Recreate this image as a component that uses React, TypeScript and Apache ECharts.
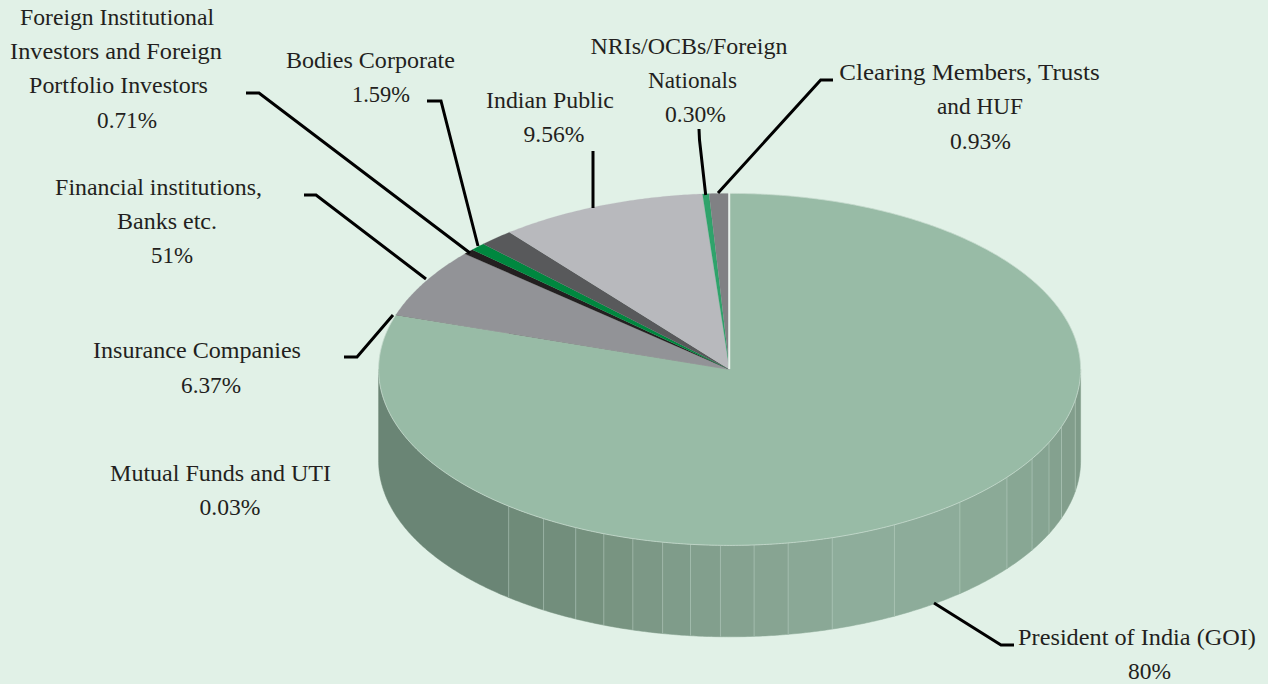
import React, { useEffect, useRef } from "react";
import * as echarts from "echarts";

// Data, clockwise from 12 o'clock
const sliceNames = [
  "President of India (GOI)",
  "Mutual Funds and UTI",
  "Insurance Companies",
  "Financial institutions, Banks etc.",
  "Foreign Institutional Investors and Foreign Portfolio Investors",
  "Bodies Corporate",
  "Indian Public",
  "NRIs/OCBs/Foreign Nationals",
  "Clearing Members, Trusts and HUF",
];
const sliceValues = [80, 0.03, 6.37, 0.51, 0.71, 1.59, 9.56, 0.3, 0.93];
const sliceColors = ["#98BBA6", "#414042", "#929397", "#231F20", "#00873F", "#58595B", "#B8B9BD", "#2FA36B", "#808184"];

const labelLines = [
  ["President of India (GOI)", "80%"],
  ["Mutual Funds and UTI", "0.03%"],
  ["Insurance Companies", "6.37%"],
  ["Financial institutions,", "Banks etc.", "51%"],
  ["Foreign Institutional", "Investors and Foreign", "Portfolio Investors", "0.71%"],
  ["Bodies Corporate", "1.59%"],
  ["Indian Public", "9.56%"],
  ["NRIs/OCBs/Foreign", "Nationals", "0.30%"],
  ["Clearing Members, Trusts", "and HUF", "0.93%"],
];

// Layout of the texts and leaders
const labelCenters = [
  [[1137, 637], [1149.5, 671]],
  [[220.5, 473], [230, 507]],
  [[197, 350], [211, 385]],
  [[158.5, 187], [167, 221], [172, 255]],
  [[117, 17], [116, 51], [118.5, 85], [127, 120]],
  [[370.5, 60], [381, 94]],
  [[550, 100], [554, 134]],
  [[689, 46], [692.5, 80], [695.5, 114]],
  [[969.5, 72], [980, 106], [980.5, 141]],
];
const labelWidths = [
  [238, 43],
  [221, 61],
  [208, 60],
  [207, 100, 42],
  [194, 212, 179, 60],
  [169, 58],
  [128, 61],
  [197, 89, 61],
  [261, 86, 61],
];
const leaders = [
  [[934, 603], [1001, 645], [1014, 645]],
  null,
  [[393, 315], [357, 357], [344, 357]],
  [[426, 279], [316, 195], [304, 195]],
  [[470, 253], [259, 93], [246, 93]],
  [[478, 246], [441, 101], [427, 101]],
  [[593, 208], [593, 151]],
  [[705.7, 195], [699.5, 140], [699, 129]],
  [[718, 193], [820.7, 80], [833, 80]],
];

const FONT = '23.5px "Liberation Serif"';
const CX = 729.6;
const CY = 369.4;
const RX = 351;
const RY = 176;
const DEPTH = 91.4;

// Facets of the side wall: start angle (clockwise from 12 o'clock) and shade
const wallAngles = [90, 100, 109, 114.5, 120.5, 127.8, 139, 152, 163, 170.4, 176, 181.5, 186.4, 191, 196, 201, 206, 212, 219, 270];
const wallColors = [
  "#7F9B89", "#829E8C", "#84A18F", "#86A492", "#88A794", "#8BAA97", "#8DAC9A", "#8EAD9B", "#8AA896", "#87A492",
  "#85A290", "#829F8D", "#7F9C8A", "#7C9886", "#789481", "#75917E", "#728E7C", "#6F8B79", "#6A8575",
];

const rad = (d: number) => (d * Math.PI) / 180;
const px = (d: number) => CX + RX * Math.sin(rad(d));
const py = (d: number) => CY - RY * Math.cos(rad(d));

function arcPoints(a0: number, a1: number, dy = 0) {
  const n = Math.max(2, Math.ceil(Math.abs(a1 - a0) / 0.5));
  const pts: number[][] = [];
  for (let k = 0; k <= n; k++) {
    const a = a0 + ((a1 - a0) * k) / n;
    pts.push([px(a), py(a) + dy]);
  }
  return pts;
}

const total = sliceValues.reduce((s, v) => s + v, 0);

function renderWall(params: any) {
  const i = params.dataIndex;
  const a0 = wallAngles[i];
  const a1 = wallAngles[i + 1];
  const pts = [...arcPoints(a0, a1), ...arcPoints(a1, a0, DEPTH)];
  const children: any[] = [
    { type: "polygon", shape: { points: pts }, style: { fill: wallColors[i], stroke: wallColors[i], lineWidth: 0.5 } },
  ];
  if (i > 0) {
    children.push({
      type: "line",
      shape: { x1: px(a0), y1: py(a0), x2: px(a0), y2: py(a0) + DEPTH },
      style: { stroke: "rgba(190,212,199,0.5)", lineWidth: 1 },
    });
  }
  return { type: "group", children };
}

function renderSlice(params: any) {
  const i = params.dataIndex;
  let before = 0;
  for (let k = 0; k < i; k++) before += sliceValues[k];
  const a0 = (before / total) * 360;
  const a1 = ((before + sliceValues[i]) / total) * 360;
  const pts = [[CX, CY], ...arcPoints(a0, a1)];
  const isMain = i === 0;
  const children: any[] = [
    {
      type: "polygon",
      shape: { points: pts },
      style: {
        fill: sliceColors[i],
        stroke: isMain ? "#C6DACE" : sliceColors[i],
        lineWidth: isMain ? 0.8 : 0.2,
      },
    },
  ];
  if (i === sliceValues.length - 1) {
    children.push({
      type: "line",
      shape: { x1: CX - 0.4, y1: CY, x2: CX - 0.4, y2: CY - RY - 1 },
      style: { stroke: "#E8F2EC", lineWidth: 2 },
    });
  }
  return { type: "group", children };
}

function buildGraphic() {
  const ctx = document.createElement("canvas").getContext("2d")!;
  ctx.font = FONT;
  const elements: any[] = [];
  labelLines.forEach((lines, i) => {
    lines.forEach((line, j) => {
      elements.push({
        type: "text",
        x: labelCenters[i][j][0],
        y: labelCenters[i][j][1],
        scaleX: labelWidths[i][j] / ctx.measureText(line).width,
        z: 10,
        style: {
          text: line,
          fill: "#231F20",
          font: FONT,
          textAlign: "center",
          textVerticalAlign: "middle",
        },
      });
    });
    if (leaders[i]) {
      elements.push({
        type: "polyline",
        z: 10,
        shape: { points: leaders[i] },
        style: { stroke: "#000000", lineWidth: 3, fill: null },
      });
    }
  });
  return elements;
}

export default function App() {
  const ref = useRef<HTMLDivElement>(null);
  useEffect(() => {
    document.body.style.margin = "0";
    const chart = echarts.init(ref.current!, null, { renderer: "svg" });
    chart.setOption({
      animation: false,
      backgroundColor: "#E1F1E7",
      tooltip: { show: false },
      series: [
        {
          type: "custom",
          name: "Wall",
          coordinateSystem: "none",
          silent: true,
          z: 1,
          renderItem: renderWall,
          data: wallColors.map((_, i) => i),
        },
        {
          type: "custom",
          name: "Shareholding",
          coordinateSystem: "none",
          silent: true,
          z: 2,
          renderItem: renderSlice,
          data: sliceValues.map((value, i) => ({ name: sliceNames[i], value })),
        },
      ],
      graphic: { elements: buildGraphic() },
    });
    return () => chart.dispose();
  }, []);
  return <div ref={ref} style={{ position: "absolute", left: 0, top: 0, width: 1268, height: 684 }} />;
}
